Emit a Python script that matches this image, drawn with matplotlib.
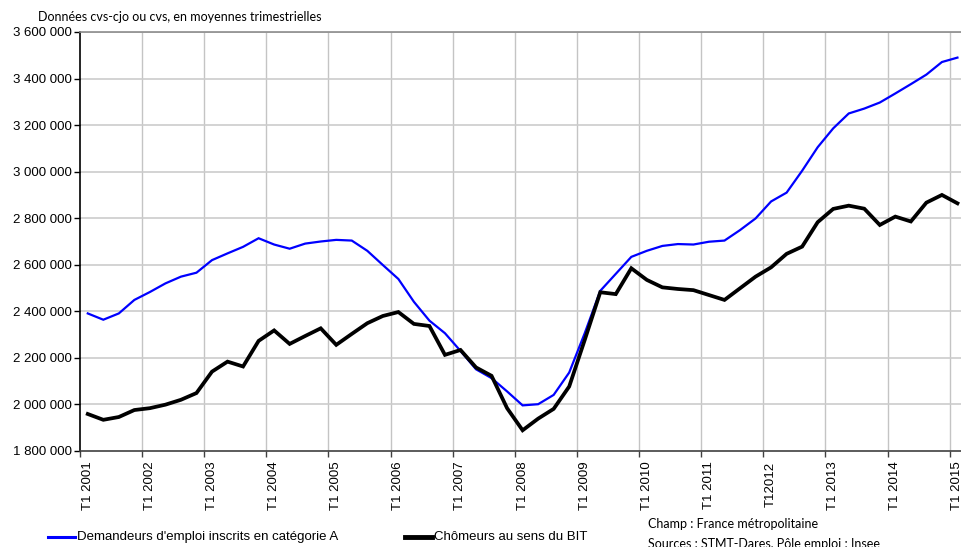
import matplotlib
matplotlib.use("Agg")
import matplotlib.pyplot as plt
from matplotlib.ticker import FixedLocator, FuncFormatter
from matplotlib.lines import Line2D

# ---- data (quarterly, T1 2001 .. T1 2015) ----
years = list(range(2001, 2016))
tick_labels = [("T12012" if y == 2012 else f"T1 {y}") for y in years]

cat_a = [2.391, 2.364, 2.391, 2.449, 2.483, 2.520, 2.549, 2.566, 2.620, 2.649,
         2.677, 2.714, 2.687, 2.669, 2.691, 2.700, 2.707, 2.704, 2.660, 2.599,
         2.539, 2.441, 2.360, 2.306, 2.230, 2.151, 2.113, 2.056, 1.996, 2.001,
         2.041, 2.137, 2.306, 2.488, 2.561, 2.634, 2.660, 2.681, 2.689, 2.687,
         2.699, 2.704, 2.749, 2.799, 2.872, 2.910, 3.004, 3.105, 3.186, 3.250,
         3.271, 3.297, 3.336, 3.376, 3.417, 3.471, 3.490]
cat_a = [v * 1e6 for v in cat_a]

bit = [1.959, 1.934, 1.946, 1.976, 1.984, 1.999, 2.020, 2.049, 2.141, 2.184,
       2.163, 2.273, 2.318, 2.260, 2.294, 2.327, 2.256, 2.303, 2.349, 2.380,
       2.397, 2.346, 2.337, 2.213, 2.234, 2.159, 2.123, 1.984, 1.889, 1.939,
       1.981, 2.077, 2.277, 2.482, 2.474, 2.585, 2.535, 2.503, 2.496, 2.491,
       2.470, 2.449, 2.499, 2.549, 2.589, 2.647, 2.678, 2.783, 2.840, 2.854,
       2.841, 2.771, 2.807, 2.786, 2.867, 2.900, 2.864]
bit = [v * 1e6 for v in bit]

label_a = "Demandeurs d'emploi inscrits en catégorie A"
label_bit = "Chômeurs au sens du BIT"
subtitle = "Données cvs-cjo ou cvs, en moyennes trimestrielles"
champ = "Champ : France métropolitaine"
sources = "Sources : STMT-Dares, Pôle emploi ; Insee"

W, H = 961, 547
fig = plt.figure(figsize=(W / 100, H / 100), dpi=100)
arial = "Liberation Sans"
calibri = "Lato"

n = len(cat_a)
x = list(range(n))
left_px, right_px, top_px, bot_px = 80, 80 + 15.53 * n, 32, 451
ax = fig.add_axes([left_px / W, (H - bot_px) / H,
                   (right_px - left_px) / W, (bot_px - top_px) / H])

ax.plot(x, cat_a, color="#0000ff", lw=1.6, solid_joinstyle="miter", zorder=3)
ax.plot(x, bit, color="#000000", lw=2.7, solid_joinstyle="miter", zorder=4)

ax.set_xlim(-0.5, n - 0.5)
ax.set_ylim(1.8e6, 3.6e6)

# y axis
yt = [1.8e6 + 2e5 * k for k in range(10)]
ax.yaxis.set_major_locator(FixedLocator(yt))
ax.yaxis.set_major_formatter(FuncFormatter(lambda v, p: f"{int(round(v)):,}".replace(",", " ")))
ax.tick_params(axis="y", direction="out", length=4, width=1, color="#000000",
               labelsize=9.5, pad=2)
for t in ax.get_yticklabels():
    t.set_fontfamily(arial)

# x axis: labels at category centers, ticks/grid at category boundaries
lab_pos = [4 * k for k in range(len(years))]
ax.xaxis.set_major_locator(FixedLocator(lab_pos))
ax.set_xticklabels(tick_labels, rotation=90, va="top", ha="center",
                   fontsize=9.5, fontfamily=arial)
ax.tick_params(axis="x", which="major", length=0, pad=7.5)
bounds = [-0.5 + 4 * k for k in range(len(years))]
ax.xaxis.set_minor_locator(FixedLocator(bounds))
ax.tick_params(axis="x", which="minor", direction="out", length=4, width=1, color="#404040")

# grid
for b in bounds[1:]:
    ax.axvline(b, color="#c4c4c4", lw=1.0, zorder=1)
for v in yt[1:]:
    ax.axhline(v, color="#cccccc", lw=1.2, zorder=1)

ax.spines["right"].set_visible(False)
ax.spines["top"].set_color("#8c8c8c")
ax.spines["top"].set_linewidth(1.2)
ax.spines["left"].set_color("#000000")
ax.spines["left"].set_linewidth(1.2)
ax.spines["bottom"].set_color("#404040")
ax.spines["bottom"].set_linewidth(1.2)

# subtitle
fig.text(38 / W, 1 - 17 / H, subtitle, fontsize=9, fontfamily=calibri,
         ha="left", va="center", color="#000000")

# legend (manual, below the plot)
fig.add_artist(Line2D([48 / W, 75 / W], [1 - 537 / H] * 2, color="#0000ff", lw=2.2))
fig.text(77 / W, 1 - 537 / H, label_a, fontsize=9.5, fontfamily=arial, ha="left", va="center")
fig.add_artist(Line2D([405 / W, 432 / W], [1 - 537 / H] * 2, color="#000000", lw=3.5))
fig.text(434 / W, 1 - 537 / H, label_bit, fontsize=9.5, fontfamily=arial, ha="left", va="center")

fig.text(648 / W, 1 - 524 / H, champ, fontsize=9, fontfamily=calibri, ha="left", va="center")
fig.text(648 / W, 1 - 544 / H, sources, fontsize=9, fontfamily=calibri, ha="left", va="center")

fig.savefig("out.png", dpi=100)
